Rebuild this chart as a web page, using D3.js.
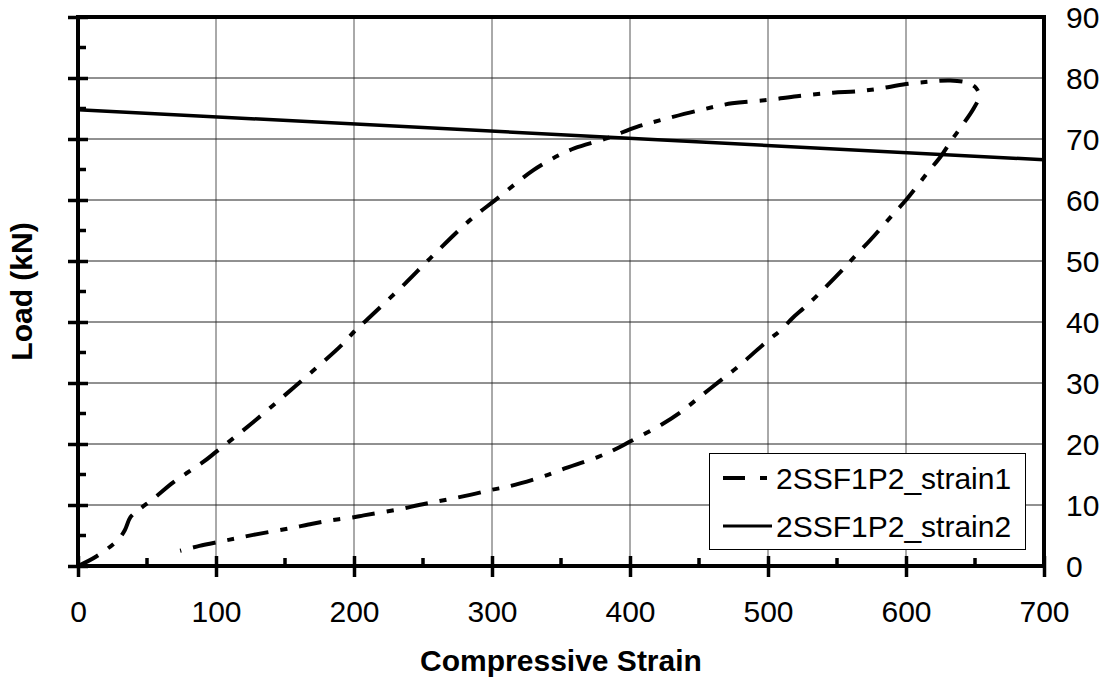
<!DOCTYPE html>
<html lang="en">
<head>
    <meta charset="UTF-8">
    <title>Load vs Compressive Strain</title>
    <script src="https://d3js.org/d3.v7.min.js"></script>
    <style>
        body { margin: 0; background: #fff; }
        svg { display: block; font-family: Arial, "Liberation Sans", sans-serif; }
    </style>
</head>
<body>
    <div id="chart"></div>

    <script>
        // strain1: loading then unloading loop (strain, load in kN)
        const strain1X = [0, 13.5, 29, 34, 38, 44, 55, 69, 91, 100, 126, 157, 191, 200, 209, 237, 255, 284, 303, 330, 349, 360,
            383, 405, 424, 451, 474, 500, 521, 547, 564, 579, 600, 617, 632, 645, 651, 653, 649, 640, 633, 625, 616, 600,
            590, 574, 563, 555, 535, 526, 518, 509, 500, 480, 465, 451, 436, 423, 400, 389, 377, 351, 340, 313, 300, 285,
            261, 247, 233, 207, 200, 181, 167, 154, 127, 114, 103, 88, 74];
        const strain1Load = [0, 1.6, 4.3, 5.9, 8.0, 9.2, 11.1, 13.7, 17.1, 18.7, 23.4, 29.4, 36.2, 38.4, 40.3, 46.3, 50.4, 56.7, 60.1, 64.9, 67.4, 68.5,
            70.1, 72.0, 73.2, 74.75, 75.85, 76.4, 77.0, 77.6, 77.8, 78.2, 79.0, 79.4, 79.6, 79.2, 78.3, 77.0, 75.0, 72.0, 69.8, 67.1, 64.6, 60.0,
            57.5, 53.4, 50.8, 48.8, 44.2, 42.3, 40.7, 38.6, 37.0, 33.0, 30.3, 27.8, 25.1, 23.2, 20.4, 19.1, 17.9, 15.85, 14.9, 13.1, 12.5, 11.7,
            10.6, 10.0, 9.3, 8.3, 8.0, 7.4, 6.8, 6.2, 5.1, 4.5, 4.0, 3.3, 2.5];

        // strain2: nearly straight line
        const strain2X = [0, 700];
        const strain2Load = [74.8, 66.6];

        const xTicks = [0, 100, 200, 300, 400, 500, 600, 700];
        const xMinor = [50, 150, 250, 350, 450, 550, 650];
        const yTicks = [0, 10, 20, 30, 40, 50, 60, 70, 80, 90];
        const yMinor = [5, 15, 25, 35, 45, 55, 65, 75, 85];

        const seriesNames = ["2SSF1P2_strain1", "2SSF1P2_strain2"];

        const W = 1111, H = 686;
        const m = { left: 78, right: 1044, top: 17, bottom: 566 };
        const dashStyle = "23,12,7,12";

        const svg = d3.select("#chart").append("svg")
            .attr("width", W)
            .attr("height", H);

        const x = d3.scaleLinear().domain([0, 700]).range([m.left, m.right]);
        const y = d3.scaleLinear().domain([0, 90]).range([m.bottom, m.top]);

        // 网格
        svg.append("g").selectAll("line").data(xTicks.slice(1, -1)).join("line")
            .attr("x1", d => x(d)).attr("x2", d => x(d))
            .attr("y1", m.top).attr("y2", m.bottom)
            .attr("stroke", "#555").attr("stroke-width", 1);
        svg.append("g").selectAll("line").data(yTicks.slice(1, -1)).join("line")
            .attr("x1", m.left).attr("x2", m.right)
            .attr("y1", d => y(d)).attr("y2", d => y(d))
            .attr("stroke", "#222").attr("stroke-width", 1);

        // 曲线
        const pts1 = strain1X.map((v, i) => [v, strain1Load[i]]);
        const pts2 = strain2X.map((v, i) => [v, strain2Load[i]]);
        const line = d3.line().x(d => x(d[0])).y(d => y(d[1])).curve(d3.curveCatmullRom.alpha(0.5));

        svg.append("path").datum(pts2)
            .attr("d", line)
            .attr("fill", "none").attr("stroke", "#000").attr("stroke-width", 3.5);
        svg.append("path").datum(pts1)
            .attr("d", line)
            .attr("fill", "none").attr("stroke", "#000").attr("stroke-width", 4)
            .attr("stroke-dasharray", dashStyle);

        // 边框
        svg.append("rect")
            .attr("x", m.left).attr("y", m.top)
            .attr("width", m.right - m.left).attr("height", m.bottom - m.top)
            .attr("fill", "none").attr("stroke", "#000").attr("stroke-width", 4);

        // bottom axis: major ticks cross the axis, minor ticks inside
        const xAxis = svg.append("g")
            .attr("transform", `translate(0,${m.bottom})`)
            .call(d3.axisBottom(x).tickValues(xTicks).tickSizeOuter(0).tickSizeInner(10).tickFormat(d3.format("d")));
        xAxis.select(".domain").remove();
        xAxis.selectAll(".tick line").attr("y1", -10).attr("y2", 11).attr("stroke-width", 3.5);
        xAxis.selectAll(".tick text")
            .attr("y", 56).attr("dy", null)
            .attr("font-size", 30).attr("fill", "#000");
        svg.append("g").selectAll("line").data(xMinor).join("line")
            .attr("x1", d => x(d)).attr("x2", d => x(d))
            .attr("y1", m.bottom - 8).attr("y2", m.bottom)
            .attr("stroke", "#000").attr("stroke-width", 3.5);

        // left axis: ticks only, no labels
        const yAxisL = svg.append("g")
            .attr("transform", `translate(${m.left},0)`)
            .call(d3.axisLeft(y).tickValues(yTicks).tickSizeOuter(0).tickSizeInner(10).tickFormat(""));
        yAxisL.select(".domain").remove();
        yAxisL.selectAll(".tick line").attr("x1", -10).attr("x2", 10).attr("stroke-width", 3.5);
        svg.append("g").selectAll("line").data(yMinor).join("line")
            .attr("x1", m.left).attr("x2", m.left + 8)
            .attr("y1", d => y(d)).attr("y2", d => y(d))
            .attr("stroke", "#000").attr("stroke-width", 3.5);

        // right axis: labels only
        const yAxisR = svg.append("g")
            .attr("transform", `translate(${m.right},0)`)
            .call(d3.axisRight(y).tickValues(yTicks).tickSize(0).tickPadding(22).tickFormat(d3.format("d")));
        yAxisR.select(".domain").remove();
        yAxisR.selectAll(".tick text")
            .attr("dy", "0.36em")
            .attr("font-size", 30).attr("fill", "#000");

        // 轴标题
        svg.append("text")
            .attr("x", (m.left + m.right) / 2).attr("y", 671)
            .attr("text-anchor", "middle")
            .attr("font-size", 30).attr("font-weight", "bold")
            .text("Compressive Strain");
        svg.append("text")
            .attr("transform", `translate(32,${(m.top + m.bottom) / 2}) rotate(-90)`)
            .attr("text-anchor", "middle")
            .attr("font-size", 30).attr("font-weight", "bold")
            .text("Load (kN)");

        // 图例
        const lg = svg.append("g");
        lg.append("rect")
            .attr("x", 709.5).attr("y", 453.5).attr("width", 316).attr("height", 96)
            .attr("fill", "#fff").attr("stroke", "#000").attr("stroke-width", 1);
        const rowY = [478, 526];
        seriesNames.forEach((name, i) => {
            lg.append("line")
                .attr("x1", 723).attr("x2", 772)
                .attr("y1", rowY[i]).attr("y2", rowY[i])
                .attr("stroke", "#000").attr("stroke-width", i === 0 ? 4 : 3)
                .attr("stroke-dasharray", i === 0 ? "22,15,7,20" : null);
            lg.append("text")
                .attr("x", 776).attr("y", rowY[i] + 11)
                .attr("font-size", 30)
                .text(name);
        });
    </script>
</body>
</html>
